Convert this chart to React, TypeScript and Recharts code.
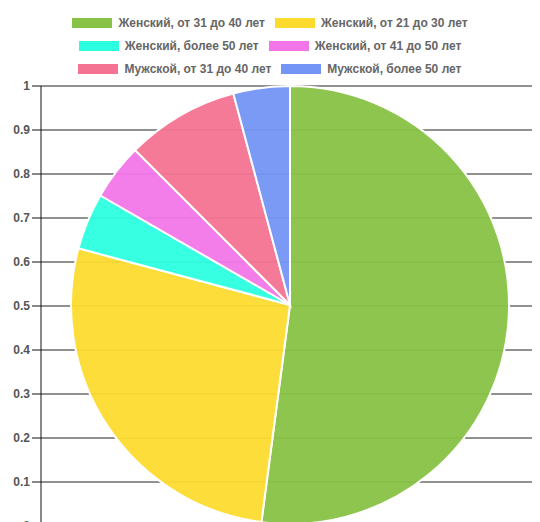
import React from "react";
import {
  PieChart,
  Pie,
  Cell,
  LineChart,
  Line,
  XAxis,
  YAxis,
  CartesianGrid,
} from "recharts";

const CATEGORIES = [
  "Женский, от 31 до 40 лет",
  "Женский, от 21 до 30 лет",
  "Женский, более 50 лет",
  "Женский, от 41 до 50 лет",
  "Мужской, от 31 до 40 лет",
  "Мужской, более 50 лет",
];

const VALUES = [25, 13, 2, 2, 4, 2];

const COLORS = ["#88C246", "#FDDB2E", "#2CFFE0", "#F276E8", "#F47392", "#7495F5"];

const Y_TICKS = [0, 0.1, 0.2, 0.3, 0.4, 0.5, 0.6, 0.7, 0.8, 0.9, 1];

const FONT = "'Liberation Sans', Arial, sans-serif";

function LegendBox() {
  return (
    <div
      style={{
        display: "flex",
        flexWrap: "wrap",
        justifyContent: "center",
        width: 420,
        margin: "0 auto",
        rowGap: 13,
        columnGap: 10,
        fontFamily: FONT,
        fontSize: 12,
        fontWeight: "bold",
        color: "#666",
      }}
    >
      {CATEGORIES.map((name, i) => (
        <div key={name} style={{ display: "flex", alignItems: "center", height: 10 }}>
          <span
            style={{
              display: "inline-block",
              width: 40,
              height: 10,
              background: COLORS[i],
              marginRight: 6,
            }}
          />
          <span style={{ whiteSpace: "nowrap" }}>{name}</span>
        </div>
      ))}
    </div>
  );
}

export default function App() {
  const pieData = CATEGORIES.map((name, i) => ({ name, value: VALUES[i] }));
  const axisData = Y_TICKS.map((t, i) => ({ x: i, y: t }));

  return (
    <div style={{ position: "relative", width: 540, height: 540, margin: -8 }}>
      <div style={{ position: "absolute", left: 0, top: 0 }}>
        <LineChart
          width={540}
          height={540}
          data={axisData}
          margin={{ top: 86, right: 0, bottom: 14, left: 0 }}
        >
          <CartesianGrid horizontal vertical={false} stroke="#222" />
          <XAxis dataKey="x" hide />
          <YAxis
            type="number"
            domain={[0, 1]}
            ticks={Y_TICKS}
            width={41}
            axisLine={{ stroke: "#111" }}
            tickLine={{ stroke: "#111" }}
            tickSize={9}
            tick={{ fill: "#555", fontSize: 12, fontWeight: "bold", fontFamily: FONT }}
          />
          <Line dataKey="y" stroke="none" dot={false} activeDot={false} isAnimationActive={false} />
        </LineChart>
      </div>
      <div style={{ position: "absolute", left: 0, top: 0 }}>
        <PieChart width={540} height={540} margin={{ top: 0, right: 0, bottom: 0, left: 0 }}>
          <Pie
            data={pieData}
            dataKey="value"
            nameKey="name"
            cx={290}
            cy={305}
            outerRadius={219}
            startAngle={90}
            endAngle={-270}
            stroke="#fff"
            strokeWidth={2}
            isAnimationActive={false}
          >
            {pieData.map((_, i) => (
              <Cell key={i} fill={COLORS[i]} fillOpacity={0.95} />
            ))}
          </Pie>
        </PieChart>
      </div>
      <div style={{ position: "absolute", left: 0, top: 18, width: 540 }}>
        <LegendBox />
      </div>
    </div>
  );
}
